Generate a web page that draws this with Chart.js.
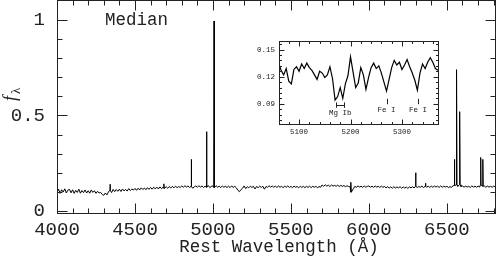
<!DOCTYPE html>
<html>
<head>
<meta charset="utf-8">
<script src="https://cdn.jsdelivr.net/npm/chart.js@4.4.1/dist/chart.umd.min.js"></script>
<style>
  html, body { margin: 0; padding: 0; background: #fff; }
  #wrap { position: relative; width: 497px; height: 263px; }
  #main { position: absolute; left: 0; top: 0; }
  #inset { position: absolute; left: 250px; top: 35px; }
</style>
</head>
<body>
<div id="wrap">
  <canvas id="main" width="497" height="263"></canvas>
  <canvas id="inset" width="195" height="105"></canvas>
</div>
<script>
// Median spectrum, sampled every 10 A from 4000 A
const WAVE_START = 4000, WAVE_STEP = 10;
const contFlux = [
  0.097,0.114,0.092,0.111,0.099,0.116,0.094,0.109,0.113,0.095, // 4000
  0.111,0.092,0.108,0.097,0.114,0.093,0.107,0.096,0.110,0.094, // 4100
  0.106,0.093,0.110,0.097,0.106,0.092,0.103,0.094,0.097,0.086, // 4200
  0.082,0.094,0.084,0.099,0.109,0.096,0.113,0.101,0.112,0.103, // 4300
  0.114,0.102,0.115,0.105,0.113,0.104,0.117,0.107,0.115,0.109, // 4400
  0.118,0.108,0.119,0.110,0.121,0.112,0.120,0.111,0.122,0.113, // 4500
  0.123,0.114,0.124,0.116,0.125,0.115,0.126,0.117,0.124,0.118, // 4600
  0.127,0.119,0.128,0.120,0.129,0.121,0.130,0.122,0.128,0.123, // 4700
  0.131,0.124,0.132,0.125,0.131,0.123,0.128,0.119,0.126,0.131, // 4800
  0.124,0.132,0.125,0.131,0.123,0.130,0.124,0.133,0.122,0.129, // 4900
  0.131,0.123,0.132,0.124,0.130,0.122,0.131,0.124,0.129,0.123, // 5000
  0.130,0.122,0.131,0.123,0.129,0.121,0.108,0.101,0.112,0.119, // 5100
  0.131,0.117,0.127,0.121,0.130,0.123,0.129,0.115,0.128,0.122, // 5200
  0.130,0.123,0.129,0.114,0.128,0.124,0.132,0.125,0.131,0.124, // 5300
  0.130,0.123,0.131,0.124,0.129,0.122,0.130,0.124,0.131,0.123, // 5400
  0.129,0.122,0.130,0.124,0.128,0.121,0.130,0.123,0.129,0.122, // 5500
  0.129,0.123,0.130,0.122,0.129,0.124,0.130,0.121,0.128,0.124, // 5600
  0.136,0.129,0.137,0.130,0.135,0.128,0.136,0.130,0.134,0.129, // 5700
  0.135,0.128,0.134,0.129,0.133,0.127,0.132,0.128,0.126,0.098, // 5800
  0.116,0.129,0.124,0.131,0.125,0.130,0.123,0.131,0.124,0.129, // 5900
  0.131,0.124,0.130,0.123,0.131,0.125,0.129,0.123,0.130,0.124, // 6000
  0.128,0.121,0.127,0.120,0.126,0.119,0.127,0.120,0.126,0.121, // 6100
  0.127,0.119,0.126,0.120,0.125,0.118,0.126,0.121,0.127,0.120, // 6200
  0.129,0.123,0.128,0.124,0.130,0.123,0.129,0.124,0.130,0.123, // 6300
  0.130,0.124,0.131,0.125,0.130,0.123,0.131,0.124,0.130,0.125, // 6400
  0.129,0.123,0.127,0.124,0.132,0.133,0.136,0.129,0.137,0.128, // 6500
  0.131,0.124,0.130,0.125,0.129,0.123,0.131,0.125,0.130,0.124, // 6600
  0.130,0.125,0.136,0.129,0.131,0.124,0.130,0.125,0.129,0.124, // 6700
  0.130,0.126                                                  // 6800
];

// narrow emission lines
const lineWave = [4340, 4686, 4861, 4959, 5007, 5885, 6300, 6364, 6548, 6563, 6583, 6717, 6731];
const linePeak = [0.140, 0.142, 0.270, 0.415, 0.995, 0.150, 0.200, 0.145, 0.270, 0.740, 0.520, 0.280, 0.270];

const xMajor = [4000, 4500, 5000, 5500, 6000, 6500];
const xMinor = [4000,4100,4200,4300,4400,4500,4600,4700,4800,4900,5000,5100,5200,5300,5400,
                5500,5600,5700,5800,5900,6000,6100,6200,6300,6400,6500,6600,6700,6800];
const yMajor = [0, 0.5, 1];
const yMinor = [0,0.1,0.2,0.3,0.4,0.5,0.6,0.7,0.8,0.9,1.0];

// inset: zoom on Mg Ib / Fe region, every 5 A from 5060 A
const INSET_START = 5060, INSET_STEP = 5;
const insetFlux = [
  0.136,0.127,0.122,0.129,0.115,0.112,0.128,0.131,0.126,0.134, // 5060
  0.129,0.135,0.130,0.127,0.122,0.117,0.126,0.124,0.119,0.122, // 5110
  0.131,0.118,0.094,0.098,0.108,0.096,0.112,0.121,0.142,0.125, // 5160
  0.108,0.113,0.130,0.122,0.106,0.119,0.130,0.135,0.129,0.132, // 5210
  0.124,0.114,0.104,0.117,0.130,0.138,0.133,0.136,0.128,0.133, // 5260
  0.139,0.131,0.124,0.116,0.105,0.124,0.134,0.129,0.136,0.141, // 5310
  0.136,0.129,0.127                                            // 5360
];
const insetXMajor = [5100, 5200, 5300];
const insetXMinor = [5080,5100,5120,5140,5160,5180,5200,5220,5240,5260,5280,5300,5320,5340,5360];
const insetYMajor = [0.09, 0.12, 0.15];
const insetYMinor = [0.072,0.078,0.084,0.09,0.096,0.102,0.108,0.114,0.12,0.126,0.132,0.138,0.144,0.15,0.156];

const markLabel = ['Mg Ib', 'Fe I', 'Fe I'];
const markWave = [5180, 5270, 5331];

const MONO = '"Liberation Mono", "DejaVu Sans Mono", monospace';
const INK = '#222';

// build spectrum points: continuum samples + spikes
const pts = contFlux.map((f, i) => ({ x: WAVE_START + i * WAVE_STEP, y: f }));
lineWave.forEach((w, i) => {
  const base = contFlux[Math.round((w - WAVE_START) / WAVE_STEP)];
  pts.push({ x: w - 2, y: base }, { x: w, y: linePeak[i] }, { x: w + 2, y: base });
});
pts.sort((a, b) => a.x - b.x);

const insetPts = insetFlux.map((f, i) => ({ x: INSET_START + i * INSET_STEP, y: f }));

function crisp(v){ return Math.round(v) + 0.5; }

// no extra room for half labels: chart area is fixed by hand
function noPad(s){ s.paddingTop = 0; s.paddingBottom = 0; s.paddingLeft = 0; s.paddingRight = 0; }

// frame + inward ticks on all four sides
function frameTicks(chart, o){
  const ctx = chart.ctx, a = chart.chartArea, xs = chart.scales.x, ys = chart.scales.y;
  const L = crisp(a.left), R = crisp(a.right - 1), T = crisp(a.top), B = crisp(a.bottom - 1);
  ctx.save();
  ctx.strokeStyle = INK; ctx.lineWidth = 1;
  ctx.strokeRect(L, T, R - L, B - T);
  ctx.beginPath();
  o.xMinor.forEach(v => {
    const p = crisp(xs.getPixelForValue(v));
    const len = o.xMajor.includes(v) ? o.major : o.minor;
    ctx.moveTo(p, B); ctx.lineTo(p, B - len);
    ctx.moveTo(p, T); ctx.lineTo(p, T + len);
  });
  o.yMinor.forEach(v => {
    const p = crisp(ys.getPixelForValue(v));
    const len = o.yMajor.some(m => Math.abs(m - v) < 1e-9) ? o.major : o.minor;
    ctx.moveTo(L, p); ctx.lineTo(L + len, p);
    ctx.moveTo(R, p); ctx.lineTo(R - len, p);
  });
  ctx.stroke();
  ctx.restore();
}

const mainDecor = {
  id: 'mainDecor',
  afterDraw(chart){
    frameTicks(chart, { xMajor, xMinor, yMajor, yMinor, major: 10, minor: 5 });
    const ctx = chart.ctx;
    ctx.save();
    ctx.fillStyle = INK;
    ctx.font = '17.5px ' + MONO;
    ctx.textBaseline = 'middle';
    ctx.textAlign = 'left';
    ctx.fillText('Median', 105, 20);
    ctx.textAlign = 'center';
    ctx.fillText('Rest Wavelength (\u00c5)', 279, 247);
    // y title f_lambda, rotated
    ctx.translate(14, 97);
    ctx.rotate(-Math.PI / 2);
    ctx.textAlign = 'left';
    ctx.textBaseline = 'alphabetic';
    ctx.font = 'italic 18px "Liberation Serif", serif';
    ctx.fillText('f', -4, 2);
    ctx.font = '13px "Liberation Serif", serif';
    ctx.fillText('\u03bb', 3, 6);
    ctx.restore();
  }
};

const insetDecor = {
  id: 'insetDecor',
  afterDraw(chart){
    frameTicks(chart, { xMajor: insetXMajor, xMinor: insetXMinor, yMajor: insetYMajor, yMinor: insetYMinor, major: 5, minor: 2.5 });
    const ctx = chart.ctx, xs = chart.scales.x, ys = chart.scales.y;
    ctx.save();
    ctx.strokeStyle = INK; ctx.fillStyle = INK; ctx.lineWidth = 1;
    ctx.font = '7.5px ' + MONO;
    ctx.textAlign = 'center'; ctx.textBaseline = 'middle';
    // Mg Ib bracket
    const b1 = crisp(xs.getPixelForValue(5172)), b2 = crisp(xs.getPixelForValue(5187));
    const bt = ys.getPixelForValue(0.0915), bb = ys.getPixelForValue(0.0855), bm = crisp(ys.getPixelForValue(0.0885));
    ctx.beginPath();
    ctx.moveTo(b1, bt); ctx.lineTo(b1, bb);
    ctx.moveTo(b2, bt); ctx.lineTo(b2, bb);
    ctx.moveTo(b1, bm); ctx.lineTo(b2, bm);
    // Fe I ticks
    [1, 2].forEach(i => {
      const p = crisp(xs.getPixelForValue(markWave[i]));
      ctx.moveTo(p, ys.getPixelForValue(0.0955)); ctx.lineTo(p, ys.getPixelForValue(0.0895));
    });
    ctx.stroke();
    ctx.fillText(markLabel[0], xs.getPixelForValue(markWave[0]), ys.getPixelForValue(0.0797));
    ctx.fillText(markLabel[1], xs.getPixelForValue(markWave[1]), ys.getPixelForValue(0.083));
    ctx.fillText(markLabel[2], xs.getPixelForValue(markWave[2]), ys.getPixelForValue(0.083));
    ctx.restore();
  }
};

Chart.defaults.font.family = MONO;
Chart.defaults.color = INK;

new Chart(document.getElementById('main'), {
  type: 'line',
  data: { datasets: [{ data: pts, borderColor: '#000', borderWidth: 1, pointRadius: 0, tension: 0 }] },
  options: {
    responsive: false, animation: false, devicePixelRatio: 1,
    layout: { padding: { left: 0, right: 1, top: 0, bottom: 0 } },
    plugins: { legend: { display: false }, tooltip: { enabled: false } },
    scales: {
      x: {
        type: 'linear', min: 4000, max: 6815,
        grid: { display: false, drawTicks: false }, border: { display: false },
        ticks: { font: { size: 19 }, padding: 5, maxRotation: 0, autoSkip: false, callback: v => String(v) },
        afterBuildTicks: s => { s.ticks = xMajor.map(v => ({ value: v })); },
        afterFit: s => { s.height = 49; noPad(s); }
      },
      y: {
        type: 'linear', min: -0.016, max: 1.105,
        grid: { display: false, drawTicks: false }, border: { display: false },
        ticks: { font: { size: 19 }, padding: 12, autoSkip: false, callback: v => String(v) },
        afterBuildTicks: s => { s.ticks = yMajor.map(v => ({ value: v })); },
        afterFit: s => { s.width = 57; noPad(s); }
      }
    }
  },
  plugins: [mainDecor]
});

new Chart(document.getElementById('inset'), {
  type: 'line',
  data: { datasets: [{ data: insetPts, borderColor: '#000', borderWidth: 1.2, pointRadius: 0, tension: 0 }] },
  options: {
    responsive: false, animation: false, devicePixelRatio: 1,
    layout: { padding: { left: 0, right: 6, top: 6, bottom: 0 } },
    plugins: { legend: { display: false }, tooltip: { enabled: false } },
    scales: {
      x: {
        type: 'linear', min: 5061, max: 5372,
        grid: { display: false, drawTicks: false }, border: { display: false },
        ticks: { font: { size: 7.5 }, padding: 3, maxRotation: 0, autoSkip: false, callback: v => String(v) },
        afterBuildTicks: s => { s.ticks = insetXMajor.map(v => ({ value: v })); },
        afterFit: s => { s.height = 15; noPad(s); }
      },
      y: {
        type: 'linear', min: 0.0665, max: 0.1595,
        grid: { display: false, drawTicks: false }, border: { display: false },
        ticks: { font: { size: 7.5 }, padding: 4, autoSkip: false, callback: v => v.toFixed(2) },
        afterBuildTicks: s => { s.ticks = insetYMajor.map(v => ({ value: v })); },
        afterFit: s => { s.width = 29; noPad(s); }
      }
    }
  },
  plugins: [insetDecor]
});
</script>
</body>
</html>
